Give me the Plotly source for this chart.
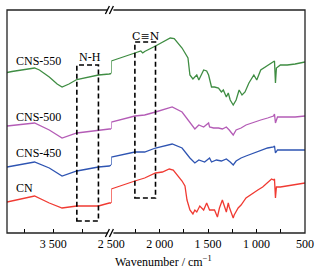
import plotly.graph_objects as go

# FTIR spectra, broken wavenumber axis (left part 4300-2500, right part 2500-500)
# intensity in arbitrary units, curves offset vertically

# CNS-550
cns550_wn_left = [4300, 4215, 3825, 3740, 3570, 3434, 3349, 3230, 3094, 2721, 2534, 2500]
cns550_left = [160.5, 161.5, 165, 163, 156, 149, 146, 149, 153.5, 158, 159, 159.5]
cns550_wn_right = [2500, 2256, 2195, 2175, 2155, 2043, 1891, 1850, 1769, 1708, 1688, 1657, 1617,
                   1596, 1546, 1515, 1495, 1465, 1434, 1393, 1363, 1343, 1312, 1292, 1272, 1241,
                   1211, 1180, 1150, 1119, 1079, 1028, 998, 957, 926, 876, 845, 825, 815, 805,
                   795, 754, 683, 602, 500]
cns550_right = [172, 180, 182, 180, 181.5, 187, 195, 194.5, 185, 175, 158, 154, 158,
                153, 163, 162, 158, 146, 146, 145, 141, 143, 136, 140, 133, 128,
                133, 143, 138, 141, 150, 158, 153, 163, 165, 168, 170, 171, 172, 150,
                165, 168, 168, 169, 171]

# CNS-500
cns500_wn_left = [4300, 3825, 3570, 3349, 3094, 2721, 2534, 2500]
cns500_left = [107, 110, 103, 95, 100, 103, 104, 104]
cns500_wn_right = [2500, 2256, 2155, 2043, 1871, 1769, 1688, 1637, 1596, 1546, 1495, 1485,
                   1444, 1393, 1353, 1312, 1282, 1241, 1211, 1160, 1109, 1028, 957, 886,
                   825, 815, 805, 784, 703, 602, 500]
cns500_right = [111, 117, 118, 121, 126, 121, 111, 104, 108, 106, 110, 106,
                105, 105, 104, 106, 103, 98, 103, 105, 108, 111, 113, 115,
                117, 119, 110, 116, 116, 116, 117]

# CNS-450
cns450_wn_left = [4300, 3825, 3570, 3349, 3094, 2721, 2534, 2500]
cns450_left = [66, 71, 65, 57, 62, 66, 67, 68]
cns450_wn_right = [2500, 2256, 2155, 2043, 1871, 1769, 1688, 1637, 1596, 1536, 1485, 1465,
                   1414, 1363, 1312, 1272, 1241, 1211, 1160, 1109, 1028, 957, 886, 825,
                   815, 805, 784, 703, 602, 500]
cns450_right = [76, 81, 81, 85, 89, 85, 75, 70, 73, 71, 75, 71,
                73, 72, 74, 71, 68, 72, 75, 77, 80, 82, 85, 86,
                87, 80, 83, 83, 83, 83]

# CN
cn_wn_left = [4300, 3825, 3570, 3349, 3094, 2721, 2534, 2500]
cn_left = [31, 37, 30, 25, 27, 27, 30, 30]
cn_wn_right = [2500, 2256, 2155, 2043, 1972, 1901, 1860, 1769, 1739, 1718, 1688, 1657, 1637,
               1617, 1586, 1546, 1515, 1485, 1434, 1404, 1383, 1353, 1333, 1312, 1292, 1282,
               1241, 1231, 1190, 1160, 1109, 1038, 987, 937, 886, 876, 845, 825, 815, 805,
               795, 754, 632, 500]
cn_right = [44, 52, 55, 60, 61, 64, 63, 52, 47, 33, 23, 19, 23,
            21, 27, 23, 30, 23, 23, 16, 25, 33, 26, 21, 30, 26,
            15, 18, 25, 28, 35, 40, 43, 46, 50, 51, 54, 53, 54, 35,
            46, 46, 48, 50]

series = [
    ("CNS-550", cns550_wn_left, cns550_left, cns550_wn_right, cns550_right, "#3f8d43", 172),
    ("CNS-500", cns500_wn_left, cns500_left, cns500_wn_right, cns500_right, "#b45cb6", 116),
    ("CNS-450", cns450_wn_left, cns450_left, cns450_wn_right, cns450_right, "#2e54b2", 80),
    ("CN", cn_wn_left, cn_left, cn_wn_right, cn_right, "#f03a32", 45),
]

FONT = "Liberation Serif, Times New Roman, serif"

fig = go.Figure()
annotations = []
for name, wl, yl, wr, yr, color, label_y in series:
    fig.add_trace(go.Scatter(x=wl, y=yl, mode="lines", xaxis="x", yaxis="y",
                             line=dict(color=color, width=1.3), showlegend=False))
    # the step at the break: start right part from the left part's last value
    fig.add_trace(go.Scatter(x=[wr[0]] + wr, y=[yl[-1]] + yr, mode="lines", xaxis="x2", yaxis="y",
                             line=dict(color=color, width=1.3), showlegend=False))
    annotations.append(dict(x=4181, y=label_y, xref="x", yref="y", text=name, showarrow=False,
                            xanchor="left", yanchor="middle", font=dict(size=12, color="black")))

annotations += [
    dict(x=2874, y=176, xref="x", yref="y", text="N-H", showarrow=False,
         font=dict(size=12, color="black")),
    dict(x=2140, y=197, xref="x2", yref="y", text="C≡N", showarrow=False,
         font=dict(size=11, color="black", family="DejaVu Serif, Liberation Serif, serif")),
    dict(x=0.525, y=-0.085, xref="paper", yref="paper", text="Wavenumber / cm<sup>−1</sup>",
         showarrow=False, yanchor="top", font=dict(size=12, color="black")),
]

box_line = dict(color="black", width=1.6, dash="5px,3px")
shapes = [
    dict(type="rect", xref="x", yref="y", x0=3094, x1=2721, y0=12, y1=168, line=box_line),
    dict(type="rect", xref="x2", yref="y", x0=2256, x1=2043, y0=35, y1=191, line=box_line),
    dict(type="rect", xref="paper", yref="paper", x0=0, x1=1, y0=0, y1=1,
         line=dict(color="#222", width=1.3)),
]
# break marks "//" on top and bottom borders
BRK = 0.347
for yy in (0, 1):
    shapes.append(dict(type="line", xref="paper", yref="paper", xsizemode="pixel", ysizemode="pixel",
                       xanchor=BRK, yanchor=yy, x0=-3, x1=3, y0=0, y1=0,
                       line=dict(color="white", width=3)))
    for dx in (-4, 0):
        shapes.append(dict(type="line", xref="paper", yref="paper", xsizemode="pixel",
                           ysizemode="pixel", xanchor=BRK, yanchor=yy,
                           x0=dx - 1, x1=dx + 3, y0=-4, y1=4,
                           line=dict(color="black", width=1.3)))

tick_style = dict(ticks="inside", ticklen=4, tickwidth=1, tickcolor="black", showgrid=False,
                  zeroline=False, showline=False, ticklabelstandoff=2,
                  tickfont=dict(size=12, color="black"))

fig.update_layout(
    width=326, height=270,
    margin=dict(l=7, r=16, t=10, b=37),
    paper_bgcolor="white", plot_bgcolor="white",
    font=dict(family=FONT, size=12, color="black"),
    xaxis=dict(domain=[0, 0.3498], range=[4300, 2500], anchor="y",
               tickvals=[4000, 3500, 3000, 2500], ticktext=["", "3 500", "", "2 500"], **tick_style),
    xaxis2=dict(domain=[0.3498, 1], range=[2500, 500], anchor="y",
                tickvals=[2250, 2000, 1750, 1500, 1250, 1000, 750, 500],
                ticktext=["", "2 000", "", "1 500", "", "1 000", "", "500"], **tick_style),
    yaxis=dict(range=[0, 223], showticklabels=False, ticks="", showgrid=False, zeroline=False),
    annotations=annotations,
    shapes=shapes,
)

# page body has a default margin; drop it so the figure sits at the window's corner
fig.write_html("out.html", config=dict(displayModeBar=False),
               post_script="document.body.style.margin='0';")
